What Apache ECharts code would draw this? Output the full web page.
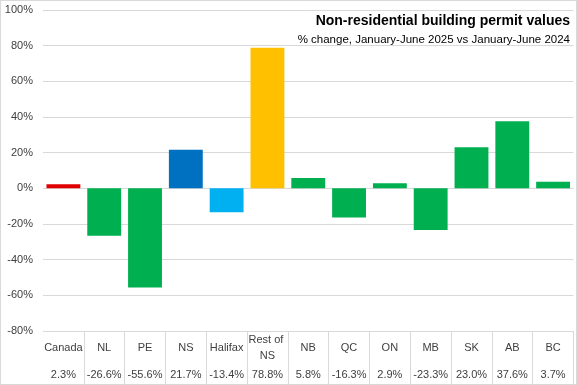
<!DOCTYPE html>
<html><head><meta charset="utf-8">
<script src="https://cdn.jsdelivr.net/npm/echarts@6/dist/echarts.min.js"></script>
<style>html,body{margin:0;padding:0;background:#fff}#wrap{width:577px;height:385px;border:1px solid #d9d9d9;box-sizing:border-box}#c{width:575px;height:383px}</style>
</head><body><div id="wrap"><div id="c"></div></div>
<script>
const categories = ['Canada','NL','PE','NS','Halifax','Rest of NS','NB','QC','ON','MB','SK','AB','BC'];
const values = [2.3,-26.6,-55.6,21.7,-13.4,78.8,5.8,-16.3,2.9,-23.3,23.0,37.6,3.7];
const yTicks = {min:-80, max:100, interval:20};
const titleText = 'Non-residential building permit values';
const subtitleText = '% change, January-June 2025 vs January-June 2024';

const colorFor = function(name){
  if(name==='Canada') return '#e00000';
  if(name==='NS') return '#0070c0';
  if(name==='Halifax') return '#00b0f0';
  if(name==='Rest of NS') return '#ffc000';
  return '#00b050';
};
const valueLabels = values.map(v => v.toFixed(1) + '%');
const font = '"Liberation Sans", Arial, sans-serif';
const chart = echarts.init(document.getElementById('c'));
chart.setOption({
  animation:false,
  title:[
    {text:titleText, right:1, top:8, textStyle:{fontFamily:font, fontWeight:'bold', fontSize:14, color:'#000'}},
    {text:subtitleText, right:1, top:28, textStyle:{fontFamily:font, fontWeight:'normal', fontSize:11.5, color:'#000'}}
  ],
  grid:{left:42, right:0, top:9, bottom:53, containLabel:false},
  xAxis:[
    {type:'category', data:categories, position:'bottom',
     axisLine:{show:false, onZero:false},
     axisTick:{show:true, length:53, lineStyle:{color:'#d9d9d9'}, interval:function(i){return i!==0;}},
     axisLabel:{interval:0, margin:17, verticalAlign:'middle', fontFamily:font, fontSize:11, color:'#404040', width:40, overflow:'break', lineHeight:16}},
    {type:'category', data:valueLabels, position:'bottom',
     axisLine:{show:false, onZero:false}, axisTick:{show:false},
     axisLabel:{interval:0, margin:44, verticalAlign:'middle', fontFamily:font, fontSize:11, color:'#404040'}}
  ],
  yAxis:{type:'value', min:yTicks.min, max:yTicks.max, interval:yTicks.interval,
    axisLine:{show:false}, axisTick:{show:false},
    splitLine:{lineStyle:{color:'#d9d9d9'}},
    axisLabel:{formatter:'{value}%', margin:10, fontFamily:font, fontSize:11, color:'#404040'}},
  series:[{type:'bar', xAxisIndex:0, barCategoryGap:'17%',
    data: values.map((v,i)=>({value:v, itemStyle:{color:colorFor(categories[i])}}))}]
});
</script></body></html>
